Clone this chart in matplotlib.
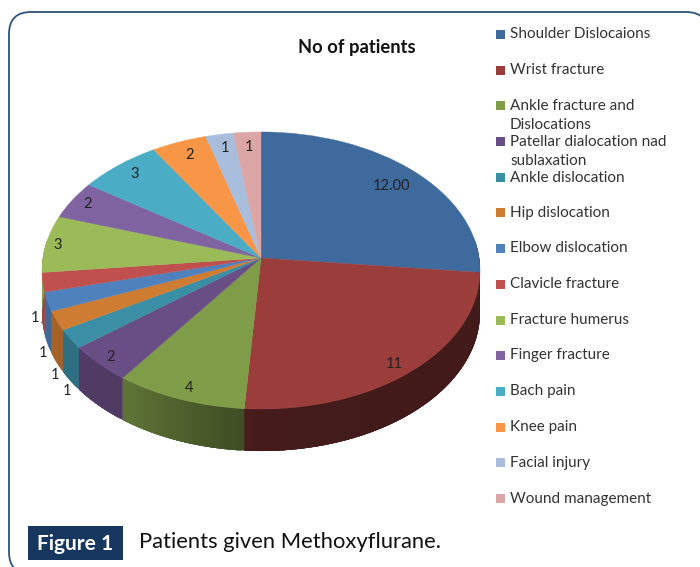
import numpy as np
import matplotlib
matplotlib.use("Agg")
import matplotlib.pyplot as plt
from matplotlib.patches import FancyBboxPatch, Rectangle
from matplotlib.colors import to_rgb
from matplotlib.transforms import Transform

categories = ["Shoulder Dislocaions", "Wrist fracture", "Ankle fracture and\nDislocations",
              "Patellar dialocation nad\nsublaxation", "Ankle dislocation", "Hip dislocation",
              "Elbow dislocation", "Clavicle fracture", "Fracture humerus", "Finger fracture",
              "Bach pain", "Knee pain", "Facial injury", "Wound management"]
values = [12, 11, 4, 2, 1, 1, 1, 1, 3, 2, 3, 2, 1, 1]
value_labels = ["12.00", "11", "4", "2", "1", "1", "1", "1", "3", "2", "3", "2", "1", "1"]
colors = ["#3F6A9E", "#9A3D3B", "#7F9C48", "#694D85", "#3A8FA6", "#CF7C33", "#4F81BD",
          "#C0504D", "#9BBB59", "#8064A2", "#4BACC6", "#F79646", "#A9BEDC", "#DBA6A5"]
legend_y = [34, 70, 105, 141, 177, 212, 248, 284, 320, 355, 391, 427, 462, 498]
label_xy = [(391, 186), (394, 364), (189, 388), (111, 357), (67, 391), (55, 375), (43, 353), (35, 318),
            (58, 245), (88, 204), (135, 174), (190, 155), (225, 148), (249, 147)]

W, H = 700, 567
plt.rcParams['font.family'] = ['Lato', 'DejaVu Sans']
fig = plt.figure(figsize=(W/100, H/100), dpi=100)
bg = fig.add_axes([0, 0, 1, 1])
bg.set_xlim(0, W); bg.set_ylim(H, 0); bg.axis('off')

bg.add_patch(FancyBboxPatch((9, 12), 699, 562, boxstyle="round,pad=0,rounding_size=22",
                            fc='white', ec='#2F5478', lw=1.3))

# pie axes in pixel units around the pie centre (261, 258)
cx, cy = 261, 258
A, B, k, depth = 218.1, 137.4, 0.0902, 42


class Perspective(Transform):
    input_dims = output_dims = 2
    is_separable = False
    has_inverse = False

    def transform_non_affine(self, values):
        p = np.asarray(values, dtype=float)
        d = 1 + k * p[:, 1]
        return np.column_stack([A * p[:, 0] / d, B * p[:, 1] / d])


persp = Perspective()
ax = fig.add_axes([0, 0, 1, 1])
ax.patch.set_alpha(0)
wedges, _ = ax.pie(values, colors=colors, startangle=90, counterclock=False, radius=1,
                   wedgeprops=dict(lw=0))
ax.set_aspect('auto')
ax.set_xlim(-cx, W - cx)
ax.set_ylim(cy - H, cy)
ax.axis('off')
for w in wedges:
    w.set_transform(persp + ax.transData)
    w.set_zorder(3)
    w.set_edgecolor(w.get_facecolor())
    w.set_linewidth(0.3)

# side wall, from the same values; strips overlap so no seams show
edges = 90 - np.cumsum([0] + values) * 360.0 / sum(values)
shade_at = ([-190, -180, -150, -126, -95, -90, 0, 10],
            [0.88, 0.88, 0.78, 0.75, 0.50, 0.44, 0.42, 0.42])
for i, c in enumerate(colors):
    t0, t1 = min(edges[i], 8), max(edges[i + 1], -188)
    if t0 <= t1:
        continue
    ts = np.linspace(t0, t1, max(int((t0 - t1) / 0.5), 2))
    base = np.array(to_rgb(c))
    for j, (s0, s1) in enumerate(zip(ts[:-1], ts[1:])):
        col = base * np.interp((s0 + s1) / 2, *shade_at)
        e = ts[min(j + 4, len(ts) - 1)]
        arc = np.radians(np.linspace(s0, e, 6))
        rim = persp.transform(np.column_stack([np.cos(arc), np.sin(arc)]))
        xs = np.r_[rim[:, 0], rim[::-1, 0]]
        ys = np.r_[rim[:, 1], rim[::-1, 1] - depth]
        ax.fill(xs, ys, fc=col, lw=0, zorder=1)
ax.set_xlim(-cx, W - cx)
ax.set_ylim(cy - H, cy)

# value labels
for (x, y), t in zip(label_xy, value_labels):
    fig.text(x/W, 1-y/H, t, ha='center', va='center', fontsize=10.5, color='#222222', zorder=5)
fig.add_artist(plt.Line2D([41/W, 48/W], [1-322/H, 1-322/H], color='#666666', lw=0.7))

fig.text(357/W, 1-47/H, "No of patients", ha='center', va='center', fontsize=13.2,
         fontweight='bold', color='#111111')

# legend
for name, c, y in zip(categories, colors, legend_y):
    fig.add_artist(Rectangle((496/W, 1-(y+5)/H), 9/W, 9/H, transform=fig.transFigure, fc=c, ec='none'))
    fig.text(510/W, 1-(y-6.5)/H, name, ha='left', va='top', fontsize=11.0, color='#333333', linespacing=1.5)

# figure caption
bg.add_patch(Rectangle((28, 526), 95, 34, fc='#17375E', ec='none', zorder=6))
bg.text(75.5, 544, "Figure 1", color='white', ha='center', va='center', fontsize=15, fontweight='bold', zorder=7)
bg.text(139, 542, "Patients given Methoxyflurane.", color='#111111', ha='left', va='center', fontsize=15.8, zorder=7)

fig.savefig("out.png", dpi=100)
